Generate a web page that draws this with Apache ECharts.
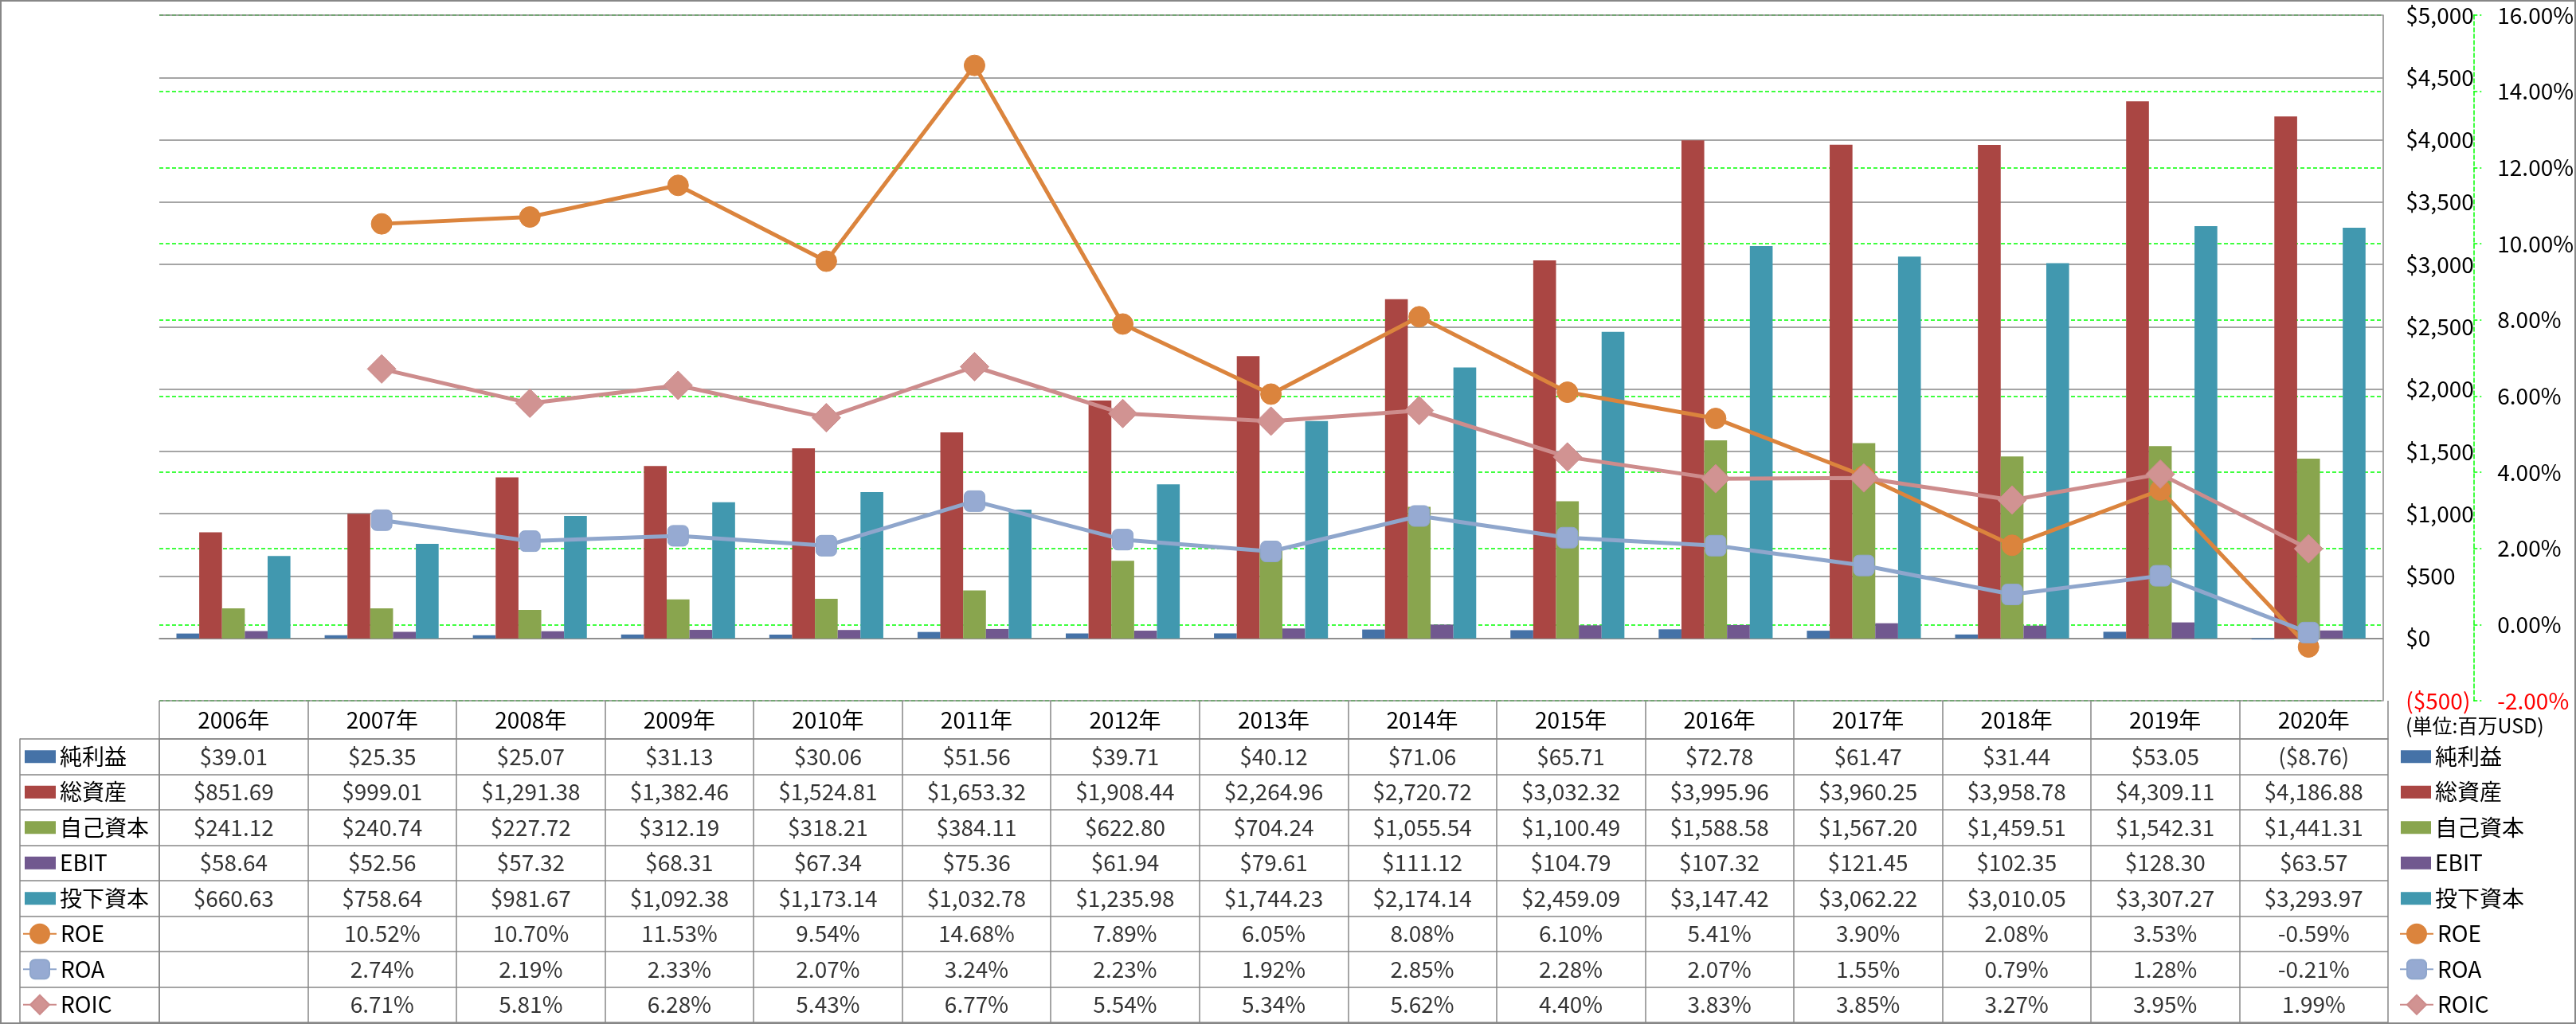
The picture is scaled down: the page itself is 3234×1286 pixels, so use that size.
<!DOCTYPE html>
<html>
<head>
<meta charset="utf-8">
<script src="https://cdn.jsdelivr.net/npm/echarts@6/dist/echarts.min.js"></script>
<style>
html,body{margin:0;padding:0;background:#fff;}
#wrap{position:relative;width:3234px;height:1286px;}
#chart{position:absolute;left:0;top:0;width:3234px;height:1286px;}
#frame{position:absolute;left:0;top:0;width:3234px;height:1286px;box-sizing:border-box;border:2px solid #878787;pointer-events:none;}
</style>
</head>
<body>
<div id="wrap"><div id="chart"></div><div id="frame"></div></div>
<script>
// ---- data ----
const years = ['2006年','2007年','2008年','2009年','2010年','2011年','2012年','2013年','2014年','2015年','2016年','2017年','2018年','2019年','2020年'];
const netIncome = [39.01,25.35,25.07,31.13,30.06,51.56,39.71,40.12,71.06,65.71,72.78,61.47,31.44,53.05,-8.76];
const totalAssets = [851.69,999.01,1291.38,1382.46,1524.81,1653.32,1908.44,2264.96,2720.72,3032.32,3995.96,3960.25,3958.78,4309.11,4186.88];
const equity = [241.12,240.74,227.72,312.19,318.21,384.11,622.80,704.24,1055.54,1100.49,1588.58,1567.20,1459.51,1542.31,1441.31];
const ebit = [58.64,52.56,57.32,68.31,67.34,75.36,61.94,79.61,111.12,104.79,107.32,121.45,102.35,128.30,63.57];
const investedCapital = [660.63,758.64,981.67,1092.38,1173.14,1032.78,1235.98,1744.23,2174.14,2459.09,3147.42,3062.22,3010.05,3307.27,3293.97];
const roe = [null,10.52,10.70,11.53,9.54,14.68,7.89,6.05,8.08,6.10,5.41,3.90,2.08,3.53,-0.59];
const roa = [null,2.74,2.19,2.33,2.07,3.24,2.23,1.92,2.85,2.28,2.07,1.55,0.79,1.28,-0.21];
const roic = [null,6.71,5.81,6.28,5.43,6.77,5.54,5.34,5.62,4.40,3.83,3.85,3.27,3.95,1.99];
const barNames = ['純利益','総資産','自己資本','EBIT','投下資本'];
const lineNames = ['ROE','ROA','ROIC'];
const unitLabel = '(単位:百万USD)';

// ---- styles / layout ----
const FONT = "'Noto Sans CJK JP', 'Noto Sans', sans-serif";
const FS = 28;
const barColors = ['#4572A7','#AA4643','#89A54E','#71588F','#4198AF'];
const lineColors = ['#DB843D','#8FA6CC','#CD8C8C'];
const markerFill = ['#DB843D','#96AAD2','#D19392'];
const GRAY = '#878787';
const GREEN = '#00FF00';
const W = 3234, H = 1286;
const plotL = 200, plotR = 2998, plotT = 19, plotB = 880;
const headB = 928, tableB = 1284;
const rowH = (tableB - headB) / 8;
const legTop = headB + rowH / 2 - 15;

function money(v) {
  const s = Math.abs(v).toLocaleString('en-US', {minimumFractionDigits: 2, maximumFractionDigits: 2});
  return v < 0 ? '($' + s + ')' : '$' + s;
}
function pct(v) { return v.toFixed(2) + '%'; }

const rows = [netIncome, totalAssets, equity, ebit, investedCapital, roe, roa, roic];
const cells = [];
rows.forEach((arr, r) => {
  arr.forEach((v, c) => {
    if (v === null) return;
    cells.push([c, r, r < 5 ? money(v) : pct(v)]);
  });
});

const series = [];
[netIncome, totalAssets, equity, ebit, investedCapital].forEach((arr, i) => {
  series.push({
    name: barNames[i], type: 'bar', xAxisIndex: 0, yAxisIndex: 0, data: arr,
    barGap: '0%', barCategoryGap: '23.1%', z: 3,
    itemStyle: {color: barColors[i]}
  });
});
const symbols = ['circle', 'roundRect', 'diamond'];
const symSizes = [26, 26, 36];
[roe, roa, roic].forEach((arr, i) => {
  series.push({
    name: lineNames[i], type: 'line', xAxisIndex: 0, yAxisIndex: 1, data: arr,
    symbol: symbols[i], symbolSize: symSizes[i], showAllSymbol: true, z: 4,
    lineStyle: {color: lineColors[i], width: 5},
    itemStyle: {color: markerFill[i], borderColor: lineColors[i], borderWidth: 1}
  });
});
series.push({
  type: 'scatter', xAxisIndex: 1, yAxisIndex: 2, data: cells, silent: true,
  symbol: 'rect', symbolSize: 1, itemStyle: {color: 'transparent'},
  label: {show: true, position: 'inside', formatter: p => p.value[2],
          color: '#000', fontSize: FS, fontFamily: FONT}
});

const legendBase = {
  orient: 'vertical', padding: 0, selectedMode: false,
  itemGap: rowH - 30,
  textStyle: {fontSize: FS, fontFamily: FONT, color: '#000', lineHeight: 30}
};

const option = {
  animation: false,
  backgroundColor: '#fff',
  grid: [
    {show: false, left: plotL, right: W - plotR, top: plotT, bottom: H - plotB},
    {show: false, left: plotL, right: W - plotR, top: headB, bottom: H - tableB}
  ],
  xAxis: [
    {type: 'category', gridIndex: 0, data: years, boundaryGap: true, z: 2,
     axisLine: {show: true, onZero: true, onZeroAxisIndex: 0, lineStyle: {color: GRAY, width: 1.5}},
     axisTick: {show: false}, axisLabel: {show: false}, splitLine: {show: false}, splitArea: {show: false}},
    {type: 'category', gridIndex: 1, data: years, position: 'top', boundaryGap: true,
     axisLine: {show: true, lineStyle: {color: GRAY, width: 1.5}},
     axisTick: {show: true, length: headB - plotB, inside: false, lineStyle: {color: GRAY, width: 1.5}},
     axisLabel: {show: true, margin: 10, fontSize: FS, fontFamily: FONT, color: '#000'},
     splitLine: {show: true, lineStyle: {color: GRAY, width: 1.5}}}
  ],
  yAxis: [
    {type: 'value', gridIndex: 0, position: 'right', min: -500, max: 5000, interval: 500, z: 1,
     axisLine: {show: true, onZero: false, lineStyle: {color: GRAY, width: 1.5}},
     axisTick: {show: false},
     axisLabel: {margin: 29, fontSize: FS, fontFamily: FONT,
       formatter: v => { v = Number(v); const s = Math.abs(v).toLocaleString('en-US'); return v < 0 ? '($' + s + ')' : '$' + s; },
       color: v => Number(v) < 0 ? '#FF0000' : '#000'},
     splitLine: {show: true, lineStyle: {color: GRAY, width: 1.5}}},
    {type: 'value', gridIndex: 0, position: 'right', offset: 114, min: -2, max: 16, interval: 2, z: 0,
     axisLine: {show: true, onZero: false, lineStyle: {color: GREEN, width: 1.5, type: [5, 3]}},
     axisTick: {show: true, inside: false, length: 10, lineStyle: {color: GREEN, width: 1.5, type: [5, 3]}},
     axisLabel: {margin: 30, fontSize: FS, fontFamily: FONT,
       formatter: v => Number(v).toFixed(2) + '%',
       color: v => Number(v) < 0 ? '#FF0000' : '#000'},
     splitLine: {show: true, lineStyle: {color: GREEN, width: 1.5, type: [5, 3]}}},
    {type: 'category', gridIndex: 1, data: barNames.concat(lineNames), inverse: true, position: 'left', boundaryGap: true,
     axisLine: {show: true, onZero: false, lineStyle: {color: GRAY, width: 1.5}},
     axisTick: {show: true, inside: false, length: plotL - 25, lineStyle: {color: GRAY, width: 1.5}},
     axisLabel: {show: false},
     splitLine: {show: true, lineStyle: {color: GRAY, width: 1.5}}},
    {type: 'category', gridIndex: 1, data: barNames.concat(lineNames), inverse: true, position: 'left', offset: plotL - 25,
     axisLine: {show: true, onZero: false, lineStyle: {color: GRAY, width: 1.5}},
     axisTick: {show: false}, axisLabel: {show: false}, splitLine: {show: false}}
  ],
  legend: [
    Object.assign({}, legendBase, {left: 31, top: legTop, data: barNames, icon: 'rect', itemWidth: 39, itemHeight: 16}),
    Object.assign({}, legendBase, {left: 28, top: legTop + 5 * rowH, data: lineNames, itemWidth: 42, itemHeight: 30}),
    Object.assign({}, legendBase, {left: 3014, top: legTop, data: barNames, icon: 'rect', itemWidth: 38, itemHeight: 16}),
    Object.assign({}, legendBase, {left: 3012, top: legTop + 5 * rowH, data: lineNames, itemWidth: 42, itemHeight: 30})
  ],
  graphic: [
    {type: 'text', left: 3020, top: 899, style: {text: unitLabel, fontSize: 25, fontFamily: FONT, fill: '#000'}}
  ],
  series: series
};

const chart = echarts.init(document.getElementById('chart'), null, {renderer: 'canvas'});
chart.setOption(option);
</script>
</body>
</html>
